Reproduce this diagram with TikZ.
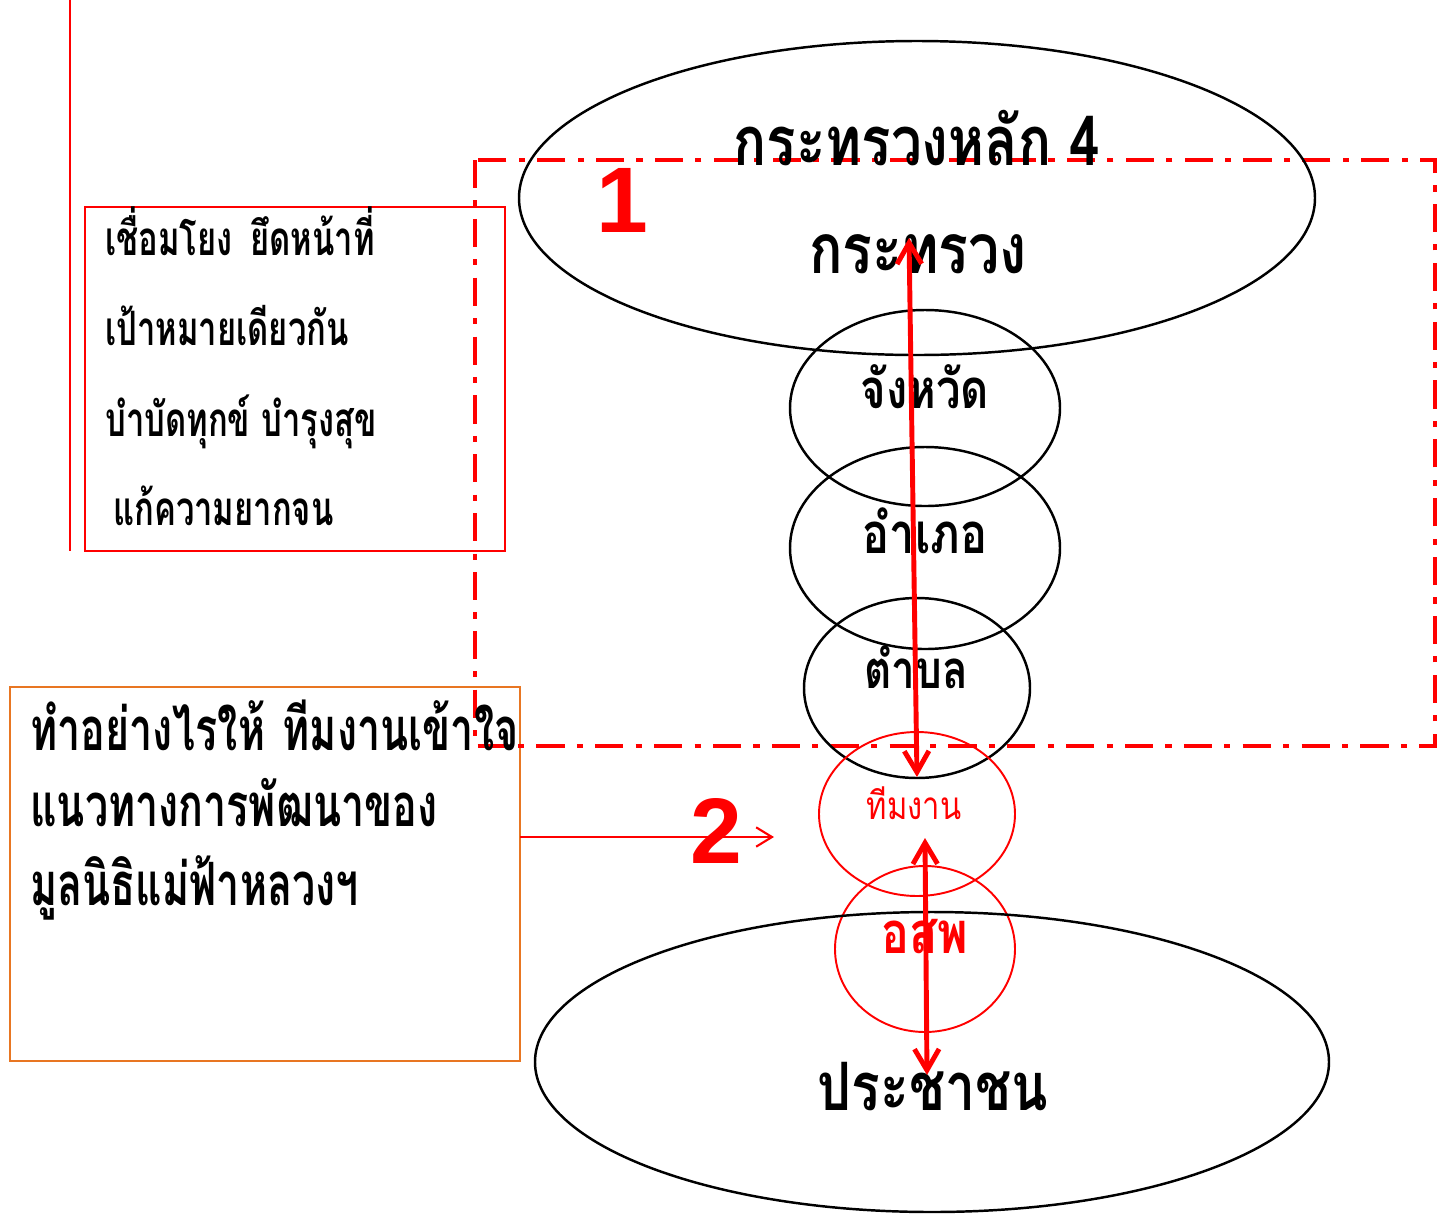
\documentclass[tikz,border=0pt]{standalone}
\usepackage{fontspec}
\usetikzlibrary{arrows.meta}
\newfontfamily\thaifont[Script=Thai,FakeStretch=0.8]{Loma}
\newfontfamily\thaibox[Script=Thai,FakeStretch=0.69]{Loma}
\setsansfont{Liberation Sans}
\definecolor{boxorange}{RGB}{232,118,34}
\newcommand{\tsize}[1]{\fontsize{#1}{#1}\selectfont}
\tikzset{
  level/.style={draw=black,line width=1.4pt},
  teamring/.style={draw=red,line width=1.1pt},
  thaitext/.style={inner sep=0pt,font=\thaifont\bfseries\tsize{#1}},
  boxtext/.style={inner sep=0pt,anchor=base west,font=\thaibox\bfseries\tsize{#1}},
  bigarrow/.style={red,line width=2.8pt,{Straight Barb[length=12pt,width=14pt]}-{Straight Barb[length=12pt,width=14pt]}},
  stagenum/.style={red,inner sep=0pt,font=\sffamily\bfseries\fontsize{53}{53}\selectfont},
}
\begin{document}
\begin{tikzpicture}[x=0.02cm,y=-0.02cm]
\useasboundingbox (0,0) rectangle (1438,1215);
% left frames
\draw[red,line width=1pt] (70,0) -- (70,551);
\draw[red,line width=1.2pt] (85,207) rectangle (505,551);
\draw[boxorange,line width=1.4pt] (10,687) rectangle (520,1061);
\draw[red,line width=2pt,dash pattern=on 16pt off 7pt on 3.5pt off 7pt] (475,160) rectangle (1435,746);
% the levels
\coordinate (ministry) at (917,198);
\coordinate (province) at (925,408);
\coordinate (district) at (925,548);
\coordinate (tambon) at (917,688);
\coordinate (team) at (917,814);
\coordinate (osp) at (925,949);
\coordinate (people) at (932,1062);
\draw[level] (ministry) ellipse (398 and 157);
\draw[level] (province) ellipse (135 and 98);
\draw[level] (district) ellipse (135 and 101);
\draw[level] (tambon) ellipse (113 and 90);
\draw[teamring] (team) ellipse (98 and 82);
\draw[teamring] (osp) ellipse (90 and 83);
\draw[level] (people) ellipse (397 and 150);
% texts
\node[thaitext=39,anchor=base] (main4) at (917,165) {กระทรวงหลัก 4};
\node[thaitext=39.5,anchor=base] (main) at (918,273) {กระทรวง};
\node[thaitext=31,anchor=base] (provtext) at (925,408) {จังหวัด};
\node[thaitext=32,anchor=base] (disttext) at (925,553) {อำเภอ};
\node[thaitext=30,anchor=base] (tambontext) at (916,688) {ตำบล};
\node[inner sep=0pt,anchor=base,red,font=\thaifont\tsize{22}] (teamtext) at (914,819) {ทีมงาน};
\node[thaitext=33,anchor=base,red] (osptext) at (925,953) {อสพ};
\node[thaitext=38,anchor=base] (peopletext) at (933,1110) {ประชาชน};
\node[boxtext=27] (link) at (105,255) {เชื่อมโยง\hspace{10pt}ยึดหน้าที่};
\node[boxtext=27] (goal) at (105,345) {เป้าหมายเดียวกัน};
\node[boxtext=27] (relief) at (105,436) {บำบัดทุกข์ บำรุงสุข};
\node[boxtext=27] (poverty) at (113,525) {แก้ความยากจน};
\node[boxtext=34] (ask1) at (30,750) {ทำอย่างไรให้\hspace{10pt}ทีมงานเข้าใจ};
\node[boxtext=34] (ask2) at (30,826) {แนวทางการพัฒนาของ};
\node[boxtext=34] (ask3) at (30,905) {มูลนิธิแม่ฟ้าหลวงฯ};
\node[stagenum] (one) at (622,200) {1};
\node[stagenum] (two) at (716,831) {2};
% arrows
\coordinate (top) at (909,238);
\coordinate (tambonS) at (917,777);
\coordinate (teamin) at (925,838);
\coordinate (peopletop) at (927,1075);
\coordinate (askE) at (520,837);
\coordinate (askto) at (774,837);
\draw[bigarrow] (top) -- (tambonS);
\draw[bigarrow] (teamin) -- (peopletop);
\draw[red,line width=1.2pt,-{Straight Barb[length=9pt,width=11pt]}] (askE) -- (askto);
\end{tikzpicture}
\end{document}
